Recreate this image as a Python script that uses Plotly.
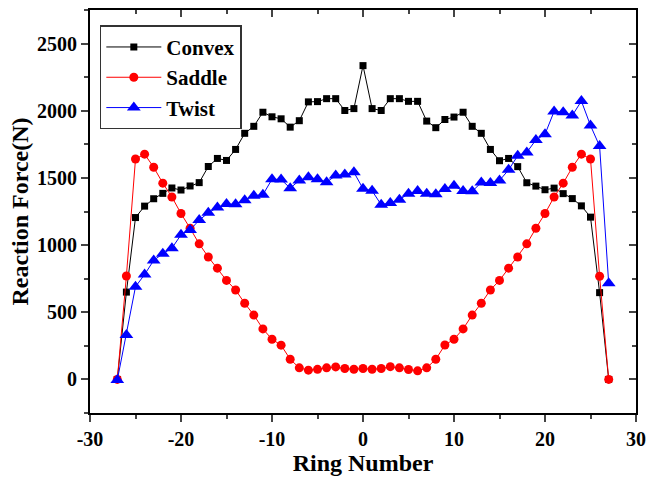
import plotly.graph_objects as go

ring = list(range(-27, 28))

convex = [0, 650, 1205, 1290, 1345, 1385, 1425, 1410, 1440, 1465, 1585, 1645, 1630, 1712,
          1832, 1884, 1989, 1955, 1940, 1878, 1926, 2066, 2068, 2090, 2090, 2002, 2016,
          2336,
          2016, 2002, 2090, 2090, 2070, 2070, 1923, 1874, 1935, 1953, 1989, 1884, 1832,
          1712, 1628, 1645, 1584, 1464, 1439, 1412, 1424, 1383, 1346, 1292, 1208, 646, 0]

saddle = [0, 770, 1641, 1677, 1579, 1461, 1358, 1235, 1125, 1009, 911, 828, 737, 666,
          567, 479, 376, 299, 255, 150, 86, 69, 75, 86, 93, 81, 76,
          81,
          76, 81, 95, 86, 74, 64, 86, 150, 256, 299, 376, 479, 567,
          666, 737, 828, 911, 1009, 1125, 1235, 1358, 1461, 1579, 1677, 1641, 768, 0]

twist = [-5, 330, 690, 781, 886, 936, 977, 1076, 1113, 1186, 1240, 1280, 1305, 1304,
         1334, 1368, 1375, 1490, 1488, 1424, 1481, 1505, 1490, 1468, 1518, 1525, 1542,
         1420,
         1404, 1300, 1314, 1338, 1383, 1402, 1383, 1378, 1417, 1441, 1402, 1400, 1466,
         1463, 1481, 1560, 1665, 1690, 1783, 1825, 1995, 1989, 1965, 2072, 1890, 1737, 715]

x_range = [-30, 30]
y_range = [-250, 2750]
x_ticks = [-30, -20, -10, 0, 10, 20, 30]
y_ticks = [0, 500, 1000, 1500, 2000, 2500]

FONT = "Liberation Serif"

fig = go.Figure()
fig.add_trace(go.Scatter(x=ring, y=convex, name="<b>Convex</b>", mode="lines+markers",
                         line=dict(color="#000000", width=1),
                         marker=dict(symbol="square", size=7, color="#000000")))
fig.add_trace(go.Scatter(x=ring, y=saddle, name="<b>Saddle</b>", mode="lines+markers",
                         line=dict(color="#FF0000", width=1),
                         marker=dict(symbol="circle", size=9, color="#FF0000")))
fig.add_trace(go.Scatter(x=ring, y=twist, name="<b>Twist</b>", mode="lines+markers",
                         line=dict(color="#0000FF", width=1),
                         marker=dict(symbol="triangle-up", size=12, color="#0000FF")))
fig.add_trace(go.Scatter(x=[None], y=[None], xaxis="x2", yaxis="y2",
                         showlegend=False, hoverinfo="skip"))

axis_common = dict(showgrid=False, zeroline=False, linecolor="#000000", linewidth=2)

fig.update_layout(
    width=654, height=479,
    margin=dict(l=90, r=10, t=8, b=64),
    paper_bgcolor="white", plot_bgcolor="white",
    font=dict(family=FONT, color="#000000"),
    xaxis=dict(range=x_range, tickvals=x_ticks, ticks="outside", ticklen=7, tickwidth=1.5,
               showline=True, mirror=True,
               minor=dict(dtick=5, ticks="outside", ticklen=4, tickwidth=1.5),
               tickfont=dict(size=20, family=FONT),
               ticktext=[f"<b>{v}</b>" for v in x_ticks],
               title=dict(text="<b>Ring Number</b>", font=dict(size=24, family=FONT), standoff=4),
               **axis_common),
    yaxis=dict(range=y_range, tickvals=y_ticks, ticks="outside", ticklen=7, tickwidth=1.5,
               showline=True, mirror=True,
               minor=dict(dtick=250, tick0=0, ticks="outside", ticklen=4, tickwidth=1.5),
               tickfont=dict(size=20, family=FONT),
               ticktext=[f"<b>{v}</b>" for v in y_ticks],
               title=dict(text="<b>Reaction Force(N)</b>", font=dict(size=24, family=FONT),
                          standoff=2),
               **axis_common),
    xaxis2=dict(range=x_range, overlaying="x", side="top", tickvals=x_ticks,
                ticks="inside", ticklen=7, tickwidth=1.5, showticklabels=False,
                minor=dict(dtick=5, ticks="inside", ticklen=4, tickwidth=1.5),
                showgrid=False, zeroline=False, showline=False),
    yaxis2=dict(range=y_range, overlaying="y", side="right", tickvals=y_ticks,
                ticks="inside", ticklen=7, tickwidth=1.5, showticklabels=False,
                minor=dict(dtick=250, tick0=0, ticks="inside", ticklen=4, tickwidth=1.5),
                showgrid=False, zeroline=False, showline=False),
    legend=dict(x=0.018, y=0.962, xanchor="left", yanchor="top",
                bgcolor="rgba(255,255,255,0)", bordercolor="#333333", borderwidth=1.5,
                font=dict(size=21, family=FONT), tracegroupgap=0, itemwidth=55),
    showlegend=True,
)

fig.write_html("out.html")
